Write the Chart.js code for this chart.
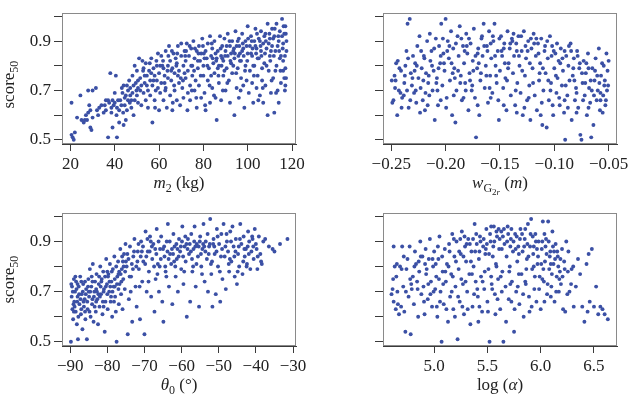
<!DOCTYPE html>
<html>
<head>
<meta charset="utf-8">
<script src="https://cdn.jsdelivr.net/npm/chart.js@4.4.1/dist/chart.umd.min.js"></script>
<style>
  html, body { margin:0; padding:0; background:#fff; }
  #wrap { position:relative; width:635px; height:400px; }
  #wrap canvas { position:absolute; }
</style>
</head>
<body>
<div id="wrap">
  <canvas id="c1" width="318" height="200" style="left:0;top:0"></canvas>
  <canvas id="c2" width="317" height="200" style="left:318px;top:0"></canvas>
  <canvas id="c3" width="318" height="200" style="left:0;top:200px"></canvas>
  <canvas id="c4" width="317" height="200" style="left:318px;top:200px"></canvas>
</div>
<script>
// score50 vs m2 (kg)
const massScore = [
  [20.5,0.52],[21,0.51],[21.5,0.50],[22,0.53],[20.5,0.65],[23,0.59],[24.5,0.68],[25,0.58],[26,0.57],[26.5,0.58],[27,0.60],[28,0.61],[28,0.70],[28.5,0.64],[29,0.55],[29.5,0.54],[29,0.62],[30,0.70],[30,0.59],[31.5,0.71],[27.5,0.58],
  [32,0.62],[33,0.63],[34,0.64],[35,0.61],[36,0.66],[36,0.62],[37,0.66],[37,0.51],[37.5,0.65],[38,0.77],[38.5,0.61],[39,0.66],[39,0.55],[39.5,0.64],[40,0.65],[40,0.69],[40.5,0.76],[41,0.63],[41,0.51],[42,0.57],[42,0.62],
  [42.5,0.66],[43,0.64],[43.5,0.69],[44,0.72],[44,0.56],[44.5,0.67],[45,0.58],[45,0.68],[45.5,0.62],[46,0.70],[46,0.66],[46.5,0.74],[47,0.68],[47,0.71],[47.5,0.63],[48,0.69],[48,0.76],[48.5,0.60],[49,0.66],[49,0.80],[49.5,0.73],[50,0.68],[50,0.78],[50.5,0.65],[50.5,0.71],
  [51,0.83],[51.5,0.75],[52,0.72],[52,0.64],[52.5,0.82],[53,0.69],[53,0.79],[53.5,0.73],[54,0.66],[54,0.81],[54.5,0.76],[55,0.70],[55,0.63],[55.5,0.78],[56,0.74],[56,0.68],[56.5,0.83],[57,0.57],[57,0.72],[57.5,0.79],[58,0.76],[58,0.66],[58.5,0.70],[59,0.80],[59,0.74],[59.5,0.85],[60,0.62],[60,0.77],
  [60.5,0.69],[61,0.84],[61,0.73],[61.5,0.80],[62,0.66],[62,0.79],[62.5,0.76],[63,0.86],[63,0.71],[63.5,0.63],[64,0.80],[64,0.75],[64.5,0.88],[65,0.68],[65,0.82],[65.5,0.74],[66,0.62],[66,0.79],[66.5,0.85],[67,0.70],[67,0.77],[67.5,0.83],[68,0.66],[68,0.81],[68.5,0.88],[69,0.73],[69,0.78],[69.5,0.64],[70,0.84],[70,0.89],[70.5,0.71],
  [71,0.80],[71,0.67],[71.5,0.86],[72,0.75],[72,0.82],[72.5,0.89],[73,0.69],[73,0.78],[73.5,0.84],[74,0.72],[74,0.66],[74.5,0.87],[75,0.80],[75,0.76],[75.5,0.90],[76,0.70],[76,0.83],[76.5,0.74],[77,0.86],[77,0.63],[77.5,0.79],[78,0.88],[78,0.72],[78.5,0.82],[79,0.67],[79,0.85],[79.5,0.91],[80,0.76],[80,0.80],[80.5,0.69],
  [81,0.86],[81,0.62],[81.5,0.83],[82,0.89],[82,0.74],[82.5,0.79],[83,0.92],[83,0.65],[83.5,0.84],[84,0.71],[84,0.87],[84.5,0.81],[85,0.77],[85,0.90],[85.5,0.67],[86,0.83],[86,0.58],[86.5,0.86],[87,0.73],[87,0.80],[87.5,0.92],[88,0.84],[88,0.66],[88.5,0.88],[89,0.76],[89,0.82],[89.5,0.91],[90,0.70],[90,0.86],[90.5,0.79],
  [91,0.84],[91,0.93],[91.5,0.74],[92,0.88],[92,0.65],[92.5,0.81],[93,0.90],[93,0.77],[93.5,0.86],[94,0.60],[94,0.83],[94.5,0.94],[95,0.71],[95,0.88],[95.5,0.79],[96,0.91],[96,0.67],[96.5,0.85],[97,0.75],[97,0.82],[97.5,0.93],[98,0.72],[98,0.87],[98.5,0.63],[99,0.80],[99,0.90],[99.5,0.74],[100,0.85],[100,0.96],[100.5,0.69],
  [101,0.88],[101,0.78],[101.5,0.92],[102,0.73],[102,0.84],[102.5,0.65],[103,0.90],[103,0.80],[103.5,0.95],[104,0.71],[104,0.87],[104.5,0.76],[105,0.91],[105,0.83],[105.5,0.68],[106,0.94],[106,0.86],[106.5,0.74],[107,0.89],[107,0.65],[107.5,0.81],[108,0.93],[108,0.72],[108.5,0.87],[109,0.97],[109,0.60],[109.5,0.78],[110,0.91],[110,0.84],[110.5,0.69],
  [111,0.95],[111,0.88],[111.5,0.75],[112,0.92],[112,0.61],[112.5,0.86],[113,0.97],[113,0.80],[113.5,0.70],[114,0.90],[114,0.65],[114.5,0.94],[115,0.84],[115,0.73],[115.5,0.99],[116,0.89],[116,0.78],[116.5,0.93],[117,0.72],[117,0.96],[117.5,0.86],[117,0.79],[116,0.82],
  [85.5,0.85],[88.5,0.83],[90.5,0.88],[92.5,0.85],[95.5,0.90],[97.5,0.86],[99.5,0.88],[101.5,0.85],[103.5,0.88],[105.5,0.90],[107.5,0.92],[109.5,0.89],[111.5,0.91],[113.5,0.88],[115.5,0.92],[117.5,0.90],[104.5,0.83],[106.5,0.79],[110.5,0.86],[114.5,0.83],[116.5,0.75],[112.5,0.78],[108.5,0.80],[102.5,0.80],
  [96.5,0.82],[93.5,0.80],[89.5,0.78],[86.5,0.79],[83.5,0.76],[80.5,0.83],[77.5,0.82],[74.5,0.80],[71.5,0.77],[68.5,0.76],[65.5,0.78],[62.5,0.73],[59.5,0.71],[56.5,0.77],[53.5,0.76],[50.5,0.74],[47.5,0.66],[44.5,0.64],[41.5,0.66],[38.5,0.63],[35.5,0.64],[32.5,0.60],
  [61.8,0.82],[63.8,0.78],[65.8,0.86],[67.8,0.80],[69.8,0.75],[71.8,0.84],[73.8,0.88],[75.8,0.78],[77.8,0.85],[79.8,0.88],[81.8,0.80],[83.8,0.89],[85.8,0.82],[87.8,0.87],[89.8,0.84],[91.8,0.90],[93.8,0.87],[95.8,0.84],[97.8,0.89],[99.8,0.82],[101.8,0.90],[103.8,0.85],[105.8,0.88],[107.8,0.85],[109.8,0.93],[111.8,0.84],[113.8,0.92],[115.8,0.87],[117.2,0.93],[116.8,0.84],
  [62.8,0.70],[66.8,0.72],[70.8,0.74],[74.8,0.70],[78.8,0.76],[82.8,0.72],[86.8,0.76],[90.8,0.73],[94.8,0.77],[98.8,0.78],[102.8,0.76],[106.8,0.71],[110.8,0.74],[114.8,0.78],[117.3,0.75],
  [64.2,0.84],[68.2,0.85],[72.2,0.86],[76.2,0.87],[80.2,0.85],[84.2,0.83],[88.2,0.80],[92.2,0.82],[96.2,0.88],[100.2,0.91],[104.2,0.93],[108.2,0.90],[112.2,0.95],[116.2,0.96],[114.2,0.86],[110.2,0.82],[106.2,0.84],[102.2,0.87],[98.2,0.84],[94.2,0.85],
  [45.5,0.72],[48.5,0.72],[51.5,0.70],[54.5,0.72],[57.5,0.74],[60.5,0.80],[52.8,0.78],[55.8,0.81],[58.8,0.82],[49.8,0.70],[46.8,0.65],[43.8,0.61],[40.8,0.60],[43.2,0.71],[58.2,0.63],[66.2,0.65],[72.8,0.62],[80.8,0.64],[88.8,0.70],[96.8,0.70],[104.8,0.66],[112.8,0.69],[116.8,0.70],[84.8,0.68],[76.8,0.67]
];

// score50 vs w_G2r (m)
const widthScore = [
  [-0.249,0.65],[-0.248,0.66],[-0.247,0.76],[-0.246,0.74],[-0.244,0.82],[-0.243,0.70],[-0.241,0.78],[-0.240,0.67],[-0.238,0.73],[-0.237,0.80],[-0.236,0.86],[-0.235,0.97],[-0.234,0.63],[-0.233,0.99],[-0.232,0.77],[-0.231,0.72],[-0.230,0.84],[-0.229,0.69],[-0.228,0.81],[-0.227,0.65],
  [-0.226,0.88],[-0.225,0.75],[-0.224,0.92],[-0.223,0.71],[-0.222,0.79],[-0.221,0.66],[-0.220,0.84],[-0.219,0.62],[-0.218,0.77],[-0.217,0.90],[-0.216,0.73],[-0.215,0.68],[-0.214,0.82],[-0.213,0.86],[-0.212,0.70],[-0.211,0.78],[-0.210,0.58],[-0.209,0.91],[-0.208,0.75],[-0.207,0.64],[-0.206,0.88],[-0.205,0.81],
  [-0.204,0.97],[-0.203,0.72],[-0.202,0.85],[-0.201,0.78],[-0.200,0.99],[-0.199,0.67],[-0.198,0.90],[-0.197,0.83],[-0.196,0.74],[-0.195,0.94],[-0.194,0.60],[-0.193,0.87],[-0.192,0.79],[-0.191,0.57],[-0.190,0.70],[-0.189,0.92],[-0.188,0.84],[-0.187,0.96],[-0.186,0.76],[-0.185,0.66],[-0.184,0.88],[-0.183,0.81],
  [-0.182,0.73],[-0.181,0.93],[-0.180,0.85],[-0.179,0.62],[-0.178,0.77],[-0.177,0.89],[-0.176,0.70],[-0.175,0.82],[-0.174,0.95],[-0.173,0.67],[-0.172,0.51],[-0.171,0.79],[-0.170,0.87],[-0.169,0.60],[-0.168,0.74],[-0.167,0.91],[-0.166,0.84],[-0.165,0.97],[-0.164,0.71],[-0.163,0.80],[-0.162,0.88],[-0.161,0.65],
  [-0.160,0.94],[-0.159,0.76],[-0.158,0.83],[-0.157,0.69],[-0.156,0.90],[-0.155,0.97],[-0.154,0.80],[-0.153,0.73],[-0.152,0.86],[-0.151,0.58],[-0.150,0.78],[-0.149,0.92],[-0.148,0.84],[-0.147,0.71],[-0.146,0.89],[-0.145,0.75],[-0.144,0.62],[-0.143,0.94],[-0.142,0.81],[-0.141,0.87],[-0.140,0.68],[-0.139,0.91],
  [-0.138,0.77],[-0.137,0.84],[-0.136,0.64],[-0.135,0.89],[-0.134,0.73],[-0.133,0.92],[-0.132,0.80],[-0.131,0.69],[-0.130,0.86],[-0.129,0.60],[-0.128,0.94],[-0.127,0.76],[-0.126,0.83],[-0.125,0.66],[-0.124,0.90],[-0.123,0.72],[-0.122,0.58],[-0.121,0.87],[-0.120,0.79],[-0.119,0.93],[-0.118,0.68],[-0.117,0.84],
  [-0.116,0.62],[-0.115,0.89],[-0.114,0.74],[-0.113,0.81],[-0.112,0.91],[-0.111,0.56],[-0.110,0.70],[-0.109,0.86],[-0.108,0.77],[-0.107,0.55],[-0.106,0.83],[-0.105,0.66],[-0.104,0.92],[-0.103,0.73],[-0.102,0.88],[-0.101,0.60],[-0.100,0.79],[-0.099,0.85],[-0.098,0.69],[-0.097,0.75],[-0.096,0.82],[-0.095,0.64],
  [-0.094,0.87],[-0.093,0.72],[-0.092,0.78],[-0.091,0.61],[-0.090,0.50],[-0.089,0.84],[-0.088,0.68],[-0.087,0.80],[-0.086,0.74],[-0.085,0.89],[-0.084,0.58],[-0.083,0.76],[-0.082,0.83],[-0.081,0.66],[-0.080,0.71],[-0.079,0.86],[-0.078,0.63],[-0.077,0.79],[-0.076,0.52],[-0.075,0.50],[-0.074,0.73],[-0.073,0.82],
  [-0.072,0.68],[-0.071,0.77],[-0.070,0.60],[-0.069,0.85],[-0.068,0.71],[-0.067,0.65],[-0.066,0.51],[-0.065,0.79],[-0.064,0.56],[-0.063,0.74],[-0.062,0.83],[-0.061,0.66],[-0.060,0.70],[-0.059,0.87],[-0.058,0.62],[-0.057,0.76],[-0.056,0.81],[-0.055,0.68],[-0.054,0.72],[-0.053,0.64],[-0.052,0.85],[-0.051,0.78],[-0.050,0.82],
  [-0.2465,0.71],[-0.2425,0.79],[-0.2385,0.68],[-0.2345,0.83],[-0.2305,0.75],[-0.2265,0.80],[-0.2225,0.86],[-0.2185,0.69],[-0.2145,0.93],[-0.2105,0.87],[-0.2065,0.79],[-0.2025,0.91],[-0.1985,0.86],[-0.1945,0.81],[-0.1905,0.89],[-0.1865,0.73],[-0.1825,0.86],[-0.1785,0.91],[-0.1745,0.78],[-0.1705,0.85],
  [-0.1665,0.92],[-0.1625,0.76],[-0.1585,0.89],[-0.1545,0.84],[-0.1505,0.91],[-0.1465,0.87],[-0.1425,0.79],[-0.1385,0.90],[-0.1345,0.86],[-0.1305,0.92],[-0.1265,0.88],[-0.1225,0.81],[-0.1185,0.89],[-0.1145,0.85],[-0.1105,0.79],[-0.1065,0.90],[-0.1025,0.84],[-0.0985,0.76],[-0.0945,0.81],[-0.0905,0.86],
  [-0.0865,0.88],[-0.0825,0.79],[-0.0785,0.84],[-0.0745,0.77],[-0.0705,0.81],[-0.0665,0.74],[-0.0625,0.78],[-0.0585,0.73],[-0.0545,0.80],[-0.0515,0.70],
  [-0.2445,0.60],[-0.2355,0.70],[-0.2235,0.61],[-0.2155,0.76],[-0.2075,0.70],[-0.1995,0.63],[-0.1915,0.75],[-0.1835,0.67],[-0.1755,0.72],[-0.1675,0.77],[-0.1595,0.71],[-0.1515,0.66],[-0.1435,0.74],[-0.1355,0.70],[-0.1275,0.63],[-0.1195,0.73],[-0.1115,0.65],[-0.1035,0.70],[-0.0955,0.67],[-0.0875,0.63],
  [-0.0795,0.69],[-0.0715,0.73],[-0.0635,0.68],[-0.0555,0.61],[-0.0525,0.66],
  [-0.2495,0.74],[-0.2415,0.69],[-0.2375,0.76],[-0.2285,0.78],[-0.2205,0.74],[-0.2125,0.80],[-0.2045,0.84],[-0.1965,0.88],[-0.1885,0.78],[-0.1805,0.88],[-0.1725,0.84],[-0.1645,0.88],[-0.1565,0.92],[-0.1485,0.86],[-0.1405,0.89],[-0.1325,0.84],[-0.1245,0.86],[-0.1165,0.91],[-0.1085,0.88],[-0.1005,0.86],
  [-0.0925,0.83],[-0.0845,0.86],[-0.0765,0.81],[-0.0685,0.79],[-0.0605,0.76],[-0.0535,0.74],
  [-0.2455,0.81],[-0.2325,0.66],[-0.2195,0.83],[-0.2085,0.73],[-0.2015,0.81],[-0.1935,0.77],[-0.1855,0.91],[-0.1775,0.74],[-0.1695,0.81],[-0.1615,0.86],[-0.1535,0.76],[-0.1455,0.81],[-0.1375,0.93],[-0.1295,0.78],[-0.1215,0.91],[-0.1135,0.77],[-0.1055,0.74],[-0.0975,0.89],[-0.0895,0.72],[-0.0815,0.74],
  [-0.0735,0.66],[-0.0655,0.70],[-0.0575,0.69],[-0.0505,0.72],
  [-0.2405,0.63],[-0.2275,0.70],[-0.2165,0.64],[-0.2045,0.66],[-0.1925,0.68],[-0.1815,0.70],[-0.1705,0.64],[-0.1585,0.67],[-0.1465,0.64],[-0.1345,0.61],[-0.1235,0.67],[-0.1125,0.60],[-0.1015,0.64],[-0.0905,0.66],[-0.0795,0.61],[-0.0685,0.63],[-0.0575,0.66]
];

// score50 vs theta0 (deg)
const angleScore = [
  [-89.8,0.50],[-89.6,0.68],[-89.5,0.72],[-89.4,0.63],[-89.2,0.59],[-89.0,0.75],[-88.9,0.66],[-88.7,0.70],[-88.5,0.62],[-88.4,0.74],[-88.2,0.57],[-88.0,0.68],[-87.9,0.51],[-87.7,0.72],[-87.5,0.65],[-87.3,0.76],[-87.1,0.61],[-86.9,0.69],[-86.7,0.55],[-86.5,0.73],[-86.3,0.64],[-86.1,0.67],[-85.9,0.59],[-85.7,0.71],[-85.5,0.51],[-85.3,0.63],[-85.1,0.75],
  [-84.9,0.68],[-84.7,0.79],[-84.5,0.60],[-84.3,0.72],[-84.1,0.65],[-83.9,0.81],[-83.7,0.58],[-83.5,0.70],[-83.3,0.74],[-83.1,0.62],[-82.9,0.77],[-82.7,0.67],[-82.5,0.57],[-82.3,0.73],[-82.1,0.64],[-81.9,0.80],[-81.7,0.69],[-81.5,0.75],[-81.3,0.61],[-81.1,0.78],[-80.9,0.71],[-80.7,0.54],[-80.5,0.66],[-80.3,0.83],[-80.1,0.73],
  [-79.9,0.63],[-79.7,0.77],[-79.5,0.70],[-79.3,0.81],[-79.1,0.66],[-78.9,0.74],[-78.7,0.60],[-78.5,0.79],[-78.3,0.72],[-78.1,0.84],[-77.9,0.68],[-77.7,0.62],[-77.5,0.50],[-77.3,0.76],[-77.1,0.82],[-76.9,0.65],[-76.7,0.73],[-76.5,0.87],[-76.3,0.69],[-76.1,0.79],[-75.9,0.63],[-75.7,0.75],[-75.5,0.85],[-75.3,0.71],[-75.1,0.89],
  [-74.8,0.80],[-74.5,0.53],[-74.2,0.67],[-73.9,0.88],[-73.6,0.76],[-73.3,0.58],[-73.0,0.84],[-72.7,0.91],[-72.4,0.72],[-72.1,0.64],[-71.8,0.86],[-71.5,0.79],[-71.2,0.59],[-70.9,0.90],[-70.6,0.74],[-70.3,0.82],[-70.0,0.53],[-69.7,0.94],[-69.4,0.70],
  [-69.1,0.86],[-68.8,0.78],[-68.5,0.92],[-68.2,0.68],[-67.9,0.83],[-67.6,0.89],[-67.3,0.62],[-67.0,0.75],[-66.7,0.95],[-66.4,0.81],[-66.1,0.70],[-65.8,0.87],[-65.5,0.92],[-65.2,0.66],[-64.9,0.58],[-64.6,0.84],[-64.3,0.78],
  [-64.0,0.90],[-63.7,0.97],[-63.4,0.72],[-63.1,0.85],[-62.8,0.81],[-62.5,0.65],[-62.2,0.93],[-61.9,0.88],[-61.6,0.76],[-61.3,0.83],[-61.0,0.70],[-60.7,0.91],[-60.4,0.86],[-60.1,0.79],
  [-59.8,0.96],[-59.5,0.73],[-59.2,0.88],[-58.9,0.82],[-58.6,0.60],[-58.3,0.91],[-58.0,0.85],[-57.7,0.66],[-57.4,0.93],[-57.1,0.78],[-56.8,0.87],[-56.5,0.96],[-56.2,0.72],[-55.9,0.89],[-55.6,0.84],[-55.3,0.64],
  [-55.0,0.92],[-54.7,0.80],[-54.4,0.87],[-54.1,0.97],[-53.8,0.74],[-53.5,0.90],[-53.2,0.83],[-52.9,0.70],[-52.6,0.88],[-52.3,0.99],[-52.0,0.77],[-51.7,0.64],[-51.4,0.91],[-51.1,0.85],[-50.8,0.69],[-50.5,0.95],
  [-50.2,0.80],[-49.9,0.89],[-49.6,0.66],[-49.3,0.93],[-49.0,0.75],[-48.7,0.97],[-48.4,0.84],[-48.1,0.71],[-47.8,0.90],[-47.5,0.86],[-47.2,0.78],[-46.9,0.94],[-46.6,0.82],[-46.3,0.96],[-46.0,0.88],[-45.7,0.76],[-45.4,0.91],
  [-45.1,0.73],[-44.8,0.85],[-44.5,0.80],[-44.2,0.97],[-43.9,0.89],[-43.6,0.77],[-43.3,0.92],[-43.0,0.84],[-42.7,0.87],[-42.4,0.81],[-42.1,0.94],[-41.8,0.90],[-41.5,0.79],[-41.2,0.86],[-40.9,0.91],[-40.6,0.83],[-40.3,0.95],
  [-40.0,0.89],[-39.6,0.79],[-39.2,0.92],[-38.8,0.85],[-38.4,0.81],[-38.0,0.90],[-37.5,0.91],[-36.5,0.88],[-35.5,0.87],[-35.0,0.86],[-33.5,0.89],[-31.5,0.91],
  [-89.3,0.70],[-88.8,0.64],[-88.3,0.71],[-87.8,0.60],[-87.2,0.67],[-86.6,0.70],[-86.0,0.74],[-85.4,0.66],[-84.8,0.62],[-84.2,0.76],[-83.6,0.68],[-83.0,0.71],[-82.4,0.69],[-81.8,0.72],[-81.2,0.66],[-80.6,0.76],[-80.0,0.69],[-79.4,0.74],[-78.8,0.78],[-78.2,0.66],
  [-77.6,0.80],[-77.0,0.71],[-76.4,0.77],[-75.8,0.82],[-75.2,0.78],[-74.6,0.85],[-74.0,0.76],[-73.4,0.81],[-72.8,0.86],[-72.2,0.80],[-71.6,0.89],[-71.0,0.84],[-70.4,0.88],[-69.8,0.81],[-69.2,0.91],[-68.6,0.86],[-68.0,0.88],[-67.4,0.80],[-66.8,0.85],[-66.2,0.90],
  [-65.6,0.83],[-65.0,0.87],[-64.4,0.80],[-63.8,0.86],[-63.2,0.90],[-62.6,0.87],[-62.0,0.82],[-61.4,0.89],[-60.8,0.84],[-60.2,0.88],[-59.6,0.84],[-59.0,0.92],[-58.4,0.87],[-57.8,0.89],[-57.2,0.83],[-56.6,0.90],[-56.0,0.81],[-55.4,0.88],[-54.8,0.85],[-54.2,0.89],
  [-53.6,0.86],[-53.0,0.93],[-52.4,0.89],[-51.8,0.82],[-51.2,0.88],[-50.6,0.86],[-49.4,0.84],[-48.2,0.88],[-47.0,0.83],[-45.8,0.84],[-44.6,0.88],[-43.4,0.82],[-42.2,0.88],[-41.0,0.92],[-39.8,0.87],[-38.6,0.82],
  [-89.7,0.73],[-89.1,0.65],[-88.6,0.76],[-88.1,0.66],[-87.6,0.69],[-87.0,0.63],[-86.4,0.66],[-85.8,0.69],[-85.2,0.72],[-84.6,0.70],[-84.0,0.67],[-83.4,0.64],[-82.8,0.70],[-82.2,0.76],[-81.6,0.74],[-81.0,0.70],[-80.4,0.72],[-79.8,0.76],[-79.2,0.72],[-78.6,0.70],
  [-78.0,0.75],[-77.4,0.73],[-76.8,0.78],[-76.2,0.74],[-75.6,0.80],[-89.0,0.62],[-88.0,0.73],[-87.0,0.74],[-86.0,0.62],[-85.0,0.70],[-84.0,0.74],[-83.0,0.66],[-82.0,0.68],[-81.0,0.64],[-80.0,0.78],[-79.0,0.68],[-78.0,0.72],[-77.0,0.77],[-76.0,0.84],[-75.0,0.82],
  [-74.3,0.83],[-73.1,0.79],[-71.9,0.82],[-70.7,0.86],[-69.5,0.84],[-68.3,0.90],[-67.1,0.87],[-65.9,0.80],[-64.7,0.88],[-63.5,0.83],[-62.3,0.85],[-61.1,0.87],[-59.9,0.90],[-58.7,0.89],[-57.5,0.86],[-56.3,0.88],[-55.1,0.90],[-53.9,0.88],[-52.7,0.85],[-51.5,0.89],
  [-50.3,0.92],[-49.1,0.87],[-47.9,0.93],[-46.7,0.90],[-45.5,0.86],[-44.3,0.91],[-43.1,0.87],[-41.9,0.85],[-40.7,0.88],[-39.5,0.84],
  [-73.7,0.70],[-71.3,0.72],[-68.9,0.74],[-66.5,0.77],[-64.1,0.76],[-61.7,0.80],[-59.3,0.78],[-56.9,0.80],[-54.5,0.77],[-52.1,0.81],[-49.7,0.78],[-47.3,0.81],[-44.9,0.78],[-42.5,0.80]
];

// score50 vs log(alpha)
const alphaScore = [
  [4.60,0.69],[4.61,0.71],[4.62,0.66],[4.62,0.88],[4.63,0.80],[4.64,0.63],[4.65,0.81],[4.66,0.65],[4.67,0.61],[4.68,0.80],[4.69,0.64],[4.70,0.88],[4.71,0.72],[4.72,0.62],[4.73,0.54],[4.74,0.79],[4.75,0.83],[4.76,0.68],[4.77,0.88],[4.78,0.53],[4.79,0.71],[4.80,0.76],
  [4.81,0.65],[4.82,0.86],[4.83,0.81],[4.84,0.74],[4.85,0.60],[4.86,0.78],[4.87,0.90],[4.88,0.69],[4.89,0.84],[4.90,0.72],[4.91,0.61],[4.92,0.87],[4.93,0.79],[4.94,0.67],[4.95,0.83],[4.96,0.91],[4.97,0.74],[4.98,0.64],[4.99,0.80],[5.00,0.86],
  [5.01,0.71],[5.02,0.76],[5.03,0.60],[5.04,0.83],[5.05,0.92],[5.06,0.70],[5.07,0.50],[5.08,0.78],[5.09,0.65],[5.10,0.87],[5.11,0.74],[5.12,0.81],[5.13,0.58],[5.14,0.89],[5.15,0.68],[5.16,0.77],[5.17,0.93],[5.18,0.63],[5.19,0.84],[5.20,0.72],
  [5.21,0.90],[5.22,0.51],[5.23,0.79],[5.24,0.66],[5.25,0.85],[5.26,0.94],[5.27,0.73],[5.28,0.61],[5.29,0.88],[5.30,0.82],[5.31,0.70],[5.32,0.91],[5.33,0.77],[5.34,0.57],[5.35,0.86],[5.36,0.64],[5.37,0.80],[5.38,0.97],[5.39,0.74],[5.40,0.89],
  [5.41,0.68],[5.42,0.83],[5.43,0.92],[5.44,0.76],[5.45,0.62],[5.46,0.88],[5.47,0.71],[5.48,0.85],[5.49,0.95],[5.50,0.66],[5.51,0.79],[5.52,0.50],[5.53,0.90],[5.54,0.73],[5.55,0.84],[5.56,0.96],[5.57,0.69],[5.58,0.81],[5.59,0.92],[5.60,0.75],
  [5.61,0.87],[5.62,0.63],[5.63,0.94],[5.64,0.78],[5.65,0.50],[5.66,0.89],[5.67,0.72],[5.68,0.84],[5.69,0.96],[5.70,0.67],[5.71,0.80],[5.72,0.91],[5.73,0.74],[5.74,0.86],[5.75,0.54],[5.76,0.93],[5.77,0.70],[5.78,0.82],[5.79,0.88],[5.80,0.65],
  [5.81,0.95],[5.82,0.77],[5.83,0.86],[5.84,0.60],[5.85,0.91],[5.86,0.73],[5.87,0.83],[5.88,0.97],[5.89,0.68],[5.90,0.88],[5.91,0.99],[5.92,0.79],[5.93,0.85],[5.94,0.71],[5.95,0.93],[5.96,0.66],[5.97,0.81],[5.98,0.90],[5.99,0.76],[6.00,0.63],
  [6.01,0.87],[6.02,0.98],[6.03,0.74],[6.04,0.82],[6.05,0.91],[6.06,0.69],[6.07,0.98],[6.08,0.79],[6.09,0.86],[6.10,0.72],[6.11,0.94],[6.12,0.81],[6.13,0.66],[6.14,0.89],[6.15,0.76],[6.16,0.84],[6.17,0.70],[6.18,0.78],[6.19,0.73],[6.20,0.87],
  [6.21,0.63],[6.22,0.82],[6.23,0.62],[6.24,0.90],[6.25,0.69],[6.26,0.86],[6.27,0.70],[6.29,0.79],[6.31,0.64],[6.33,0.72],[6.35,0.83],[6.37,0.77],[6.39,0.64],[6.41,0.58],[6.43,0.81],[6.44,0.62],[6.45,0.85],[6.46,0.66],[6.48,0.87],[6.50,0.64],[6.52,0.72],[6.54,0.61],[6.56,0.64],[6.58,0.63],[6.60,0.61],[6.63,0.59],
  [4.645,0.76],[4.715,0.84],[4.785,0.73],[4.855,0.82],[4.925,0.77],[4.995,0.70],[5.035,0.88],[5.085,0.73],[5.135,0.80],[5.185,0.91],[5.235,0.86],[5.285,0.92],[5.335,0.89],[5.385,0.86],[5.435,0.90],[5.485,0.87],[5.525,0.93],[5.565,0.90],[5.605,0.95],[5.645,0.92],
  [5.685,0.90],[5.725,0.95],[5.765,0.87],[5.805,0.91],[5.845,0.88],[5.885,0.84],[5.925,0.92],[5.965,0.87],[6.005,0.81],[6.045,0.88],[6.085,0.84],[6.125,0.86],[6.165,0.80],[6.205,0.76],[5.255,0.75],[5.375,0.69],[5.455,0.74],[5.545,0.71],[5.625,0.76],[5.705,0.78],
  [5.785,0.72],[5.865,0.79],[5.945,0.76],[6.025,0.79],[6.105,0.77],[5.315,0.63],[5.415,0.58],[5.505,0.62],[5.595,0.67],[5.675,0.58],[5.755,0.63],[5.835,0.69],[5.915,0.64],[5.985,0.71],[6.065,0.73],[6.145,0.70],[4.905,0.66],[4.965,0.69],[5.055,0.66],[5.115,0.63],
  [4.615,0.75],[4.655,0.70],[4.695,0.79],[4.735,0.70],[4.775,0.75],[4.815,0.80],[4.845,0.71],[4.875,0.84],[4.915,0.81],[4.945,0.73],[4.985,0.83],[5.015,0.81],[5.045,0.75],[5.075,0.84],[5.105,0.78],[5.145,0.86],[5.175,0.76],[5.205,0.82],[5.245,0.91],[5.275,0.84],
  [5.305,0.89],[5.345,0.82],[5.365,0.91],[5.395,0.93],[5.425,0.86],[5.465,0.91],[5.495,0.89],[5.515,0.85],[5.535,0.96],[5.555,0.88],[5.585,0.94],[5.615,0.91],[5.635,0.87],[5.655,0.95],[5.695,0.93],[5.715,0.88],[5.745,0.90],[5.775,0.92],[5.795,0.85],[5.825,0.93],
  [5.855,0.95],[5.875,0.89],[5.905,0.93],[5.935,0.88],[5.955,0.90],[5.975,0.84],[6.015,0.90],[6.035,0.93],[6.055,0.85],[6.075,0.90],[6.095,0.81],[6.115,0.88],[6.135,0.83],[6.155,0.86],[6.185,0.83],[6.225,0.79],[6.255,0.78],[6.285,0.73],[6.305,0.80],
  [5.165,0.70],[5.225,0.68],[5.295,0.74],[5.355,0.77],[5.405,0.71],[5.475,0.78],[5.535,0.76],[5.585,0.80],[5.635,0.70],[5.715,0.73],[5.795,0.77],[5.855,0.74],[5.935,0.80],[6.015,0.75],[6.095,0.68],[6.175,0.75],[5.025,0.64],[5.195,0.60],[5.265,0.64],[5.425,0.64],
  [5.575,0.61],[5.725,0.66],[5.895,0.62],[6.035,0.66]
];

// tick values
const yTicks = [0.5, 0.6, 0.7, 0.8, 0.9, 1.0];
const yLabelled = [0.5, 0.7, 0.9];
const massTicks = [20, 40, 60, 80, 100, 120];
const widthTicks = [-0.25, -0.20, -0.15, -0.10, -0.05];
const angleTicks = [-90, -80, -70, -60, -50, -40, -30];
const alphaTicks = [5.0, 5.5, 6.0, 6.5];

const SERIF = '"Liberation Serif", "DejaVu Serif", serif';
const DOT = "#3b50a5";
const AXIS = "#3a3a3a";
const BOX = "#8a8a8a";
const TEXT = "#222";

function f(size, italic){ return (italic ? "italic " : "") + size + "px " + SERIF; }
function minus(s){ return s.replace("-", "\u2212"); }

// draw a label made of pieces [text, font, dy], centred at x
function drawParts(ctx, parts, x, y){
  let w = 0;
  parts.forEach(p => { ctx.font = p[1]; w += ctx.measureText(p[0]).width; });
  let cx = x - w / 2;
  parts.forEach(p => {
    ctx.font = p[1];
    ctx.fillText(p[0], cx, y + p[2]);
    cx += ctx.measureText(p[0]).width;
  });
}

const titles = {
  mass:  [["m", f(17,1), 0], ["2", f(12), 4], [" (kg)", f(17), 0]],
  width: [["w", f(17,1), 0], ["G", f(12), 4], ["2", f(9), 7], ["r", f(9,1), 7], [" (", f(17), 0], ["m", f(17,1), 0], [")", f(17), 0]],
  angle: [["\u03b8", f(17,1), 0], ["0", f(12), 4], [" (\u00b0)", f(17), 0]],
  alpha: [["log (", f(17), 0], ["\u03b1", f(17,1), 0], [")", f(17), 0]],
  score: [["score", f(17), 0], ["50", f(12), 4]]
};

function makePanel(id, pts, xr, xTicks, xFmt, cfg){
  const boxAndTitles = {
    id: "boxAndTitles",
    beforeDatasetsDraw(chart){
      const a = chart.chartArea, ctx = chart.ctx;
      ctx.save();
      ctx.strokeStyle = BOX;
      ctx.lineWidth = 1;
      ctx.strokeRect(Math.round(a.left) + 0.5, Math.round(a.top) + 0.5,
                     Math.round(a.right - a.left) - 1, Math.round(a.bottom - a.top) - 1);
      ctx.restore();
    },
    afterDraw(chart){
      const a = chart.chartArea, ctx = chart.ctx;
      ctx.save();
      ctx.fillStyle = TEXT;
      ctx.textBaseline = "alphabetic";
      drawParts(ctx, titles[cfg.title], (a.left + a.right) / 2, a.bottom + 44);
      if (cfg.showY) {
        ctx.translate(14, (a.top + a.bottom) / 2 + cfg.yShift);
        ctx.rotate(-Math.PI / 2);
        drawParts(ctx, titles.score, 0, 0);
      }
      ctx.restore();
    }
  };

  new Chart(document.getElementById(id), {
    type: "scatter",
    data: {
      datasets: [{
        data: pts.map(p => ({ x: p[0], y: p[1] })),
        backgroundColor: DOT,
        borderWidth: 0,
        pointRadius: 1.95,
        pointHoverRadius: 1.95
      }]
    },
    options: {
      responsive: false,
      animation: false,
      events: [],
      layout: { padding: { left: 0, top: cfg.top, right: cfg.right, bottom: 0 } },
      plugins: { legend: { display: false }, tooltip: { enabled: false } },
      scales: {
        x: {
          type: "linear", min: xr[0], max: xr[1],
          afterBuildTicks: s => { s.ticks = xTicks.map(v => ({ value: v })); },
          afterFit: s => { s.height = cfg.xH; },
          grid: { drawOnChartArea: false, drawTicks: true, tickLength: 7, color: AXIS },
          border: { display: true, color: AXIS },
          ticks: { autoSkip: false, maxRotation: 0, padding: 3, color: TEXT,
                   font: { family: SERIF, size: 17 }, callback: v => xFmt(v) }
        },
        y: {
          type: "linear", min: 0.483, max: 1.013,
          afterBuildTicks: s => { s.ticks = yTicks.map(v => ({ value: v })); },
          afterFit: s => { s.width = cfg.yW; },
          grid: { drawOnChartArea: false, drawTicks: true, tickLength: 8, color: AXIS },
          border: { display: true, color: AXIS },
          ticks: { autoSkip: false, padding: 3, color: TEXT,
                   font: { family: SERIF, size: 17 },
                   callback: v => (cfg.showY && yLabelled.some(t => Math.abs(t - v) < 1e-9)) ? v.toFixed(1) : "" }
        }
      }
    },
    plugins: [boxAndTitles]
  });
}

makePanel("c1", massScore, [16.2, 121.8], massTicks, v => String(v),
  { title: "mass", showY: true, yShift: 6, top: 7, right: 22, yW: 62, xH: 56 });
makePanel("c2", widthScore, [-0.2576, -0.0423], widthTicks, v => minus(v.toFixed(2)),
  { title: "width", showY: false, yShift: 0, top: 7, right: 18, yW: 65, xH: 56 });
makePanel("c3", angleScore, [-92.2, -29.2], angleTicks, v => minus(String(v)),
  { title: "angle", showY: true, yShift: 0, top: 10, right: 22, yW: 62, xH: 54 });
makePanel("c4", alphaScore, [4.52, 6.716], alphaTicks, v => v.toFixed(1),
  { title: "alpha", showY: false, yShift: 0, top: 10, right: 18, yW: 65, xH: 54 });
</script>
</body>
</html>
